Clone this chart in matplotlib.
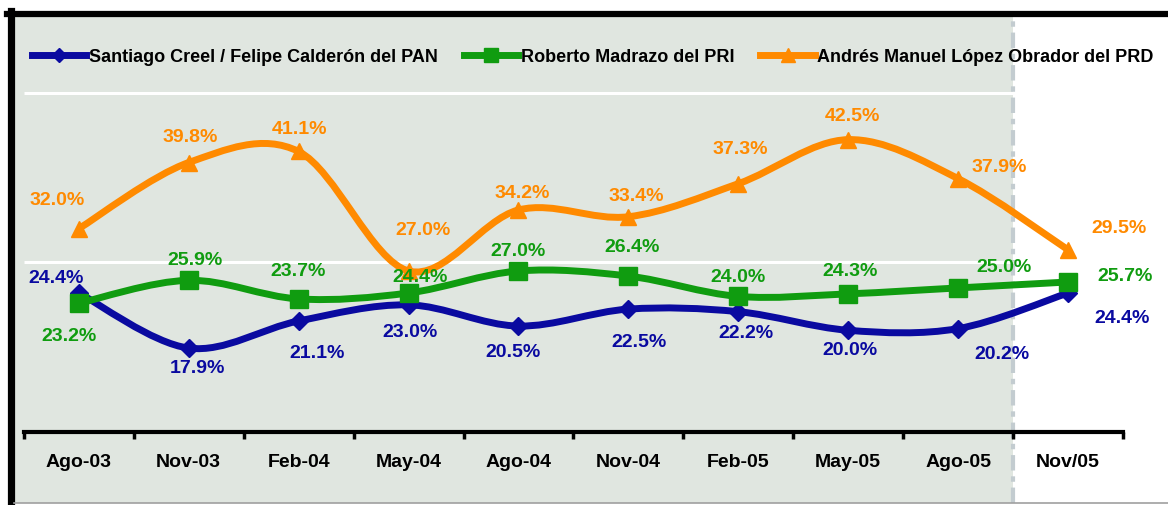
import numpy as np
import matplotlib
matplotlib.use("Agg")
import matplotlib.pyplot as plt
from matplotlib.path import Path
from matplotlib.patches import PathPatch
from matplotlib.lines import Line2D

# data
periods = ["Ago-03", "Nov-03", "Feb-04", "May-04", "Ago-04",
           "Nov-04", "Feb-05", "May-05", "Ago-05", "Nov/05"]
pan = [24.4, 17.9, 21.1, 23.0, 20.5, 22.5, 22.2, 20.0, 20.2, 24.4]
pri = [23.2, 25.9, 23.7, 24.4, 27.0, 26.4, 24.0, 24.3, 25.0, 25.7]
prd = [32.0, 39.8, 41.1, 27.0, 34.2, 33.4, 37.3, 42.5, 37.9, 29.5]
names = ["Santiago Creel / Felipe Calderón del PAN",
         "Roberto Madrazo del PRI",
         "Andrés Manuel López Obrador del PRD"]

# label offsets in pixels (dx, dy up)
pan_off = [(-23, 16), (9, -19), (18, -32), (1, -27), (-5, -25),
           (11, -32), (8, -21), (2, -19), (44, -25), (54, -24)]
pri_off = [(-10, -32), (6, 21), (-1, 28), (12, 17), (0, 20),
           (4, 30), (0, 20), (2, 23), (46, 21), (57, 6)]
prd_off = [(-22, 29), (1, 26), (1, 23), (14, 41), (4, 17),
           (8, 21), (2, 35), (4, 24), (41, 12), (51, 22)]

#visuals
BLUE = "#0a0aa0"
GREEN = "#109c10"
ORANGE = "#ff8a00"
PANEL = "#e0e6e0"
FONT = ["Liberation Sans", "DejaVu Sans"]
plt.rcParams["font.family"] = FONT
plt.rcParams["font.weight"] = "bold"

W, H = 1168, 506
fig = plt.figure(figsize=(W / 100, H / 100), dpi=100)
fig.patch.set_facecolor("white")

ax = fig.add_axes([14 / W, 2 / H, (W - 14) / W, (504 - 18) / H])
ax.set_facecolor("white")
ax.set_xlim(-0.59, 9.91)
ax.set_ylim(-0.38, 56.97)

n = len(periods)
x = np.arange(n)

# shaded history area + divider
ax.axvspan(-0.59, 8.5, color=PANEL, lw=0, zorder=0)
ax.axvline(8.5, color="#c3ccd0", lw=3, ls=(0, (3.7, 1.4, 1.3, 1.4)), zorder=1)
ax.hlines([28, 48], -0.5, 8.5, colors="white", lw=2.2, zorder=1)


def smooth_path(xs, ys):
    # excel-like smoothed line (catmull-rom as cubic beziers)
    pts = np.column_stack([xs, ys]).astype(float)
    verts = [pts[0]]
    codes = [Path.MOVETO]
    for i in range(len(pts) - 1):
        p0 = pts[i - 1] if i > 0 else pts[i]
        p1 = pts[i]
        p2 = pts[i + 1]
        p3 = pts[i + 2] if i + 2 < len(pts) else pts[i + 1]
        c1 = p1 + (p2 - p0) / 6.0
        c2 = p2 - (p3 - p1) / 6.0
        verts += [c1, c2, p2]
        codes += [Path.CURVE4] * 3
    return Path(verts, codes)


series = [
    (pan, BLUE, "D", 9, pan_off),
    (pri, GREEN, "s", 13, pri_off),
    (prd, ORANGE, "^", 12, prd_off),
]

handles = []
for vals, col, mk, ms, offs in series:
    patch = PathPatch(smooth_path(x, vals), facecolor="none", edgecolor=col,
                      lw=5, capstyle="butt", joinstyle="round", zorder=3)
    ax.add_patch(patch)
    ax.plot(x, vals, ls="none", marker=mk, ms=ms, color=col, zorder=4)
    for xi, v, (dx, dy) in zip(x, vals, offs):
        ax.annotate(f"{v:.1f}%", (xi, v), xytext=(dx, dy),
                    textcoords="offset pixels", ha="center", va="center",
                    color=col, fontsize=14, fontweight="bold", zorder=5)
    handles.append(Line2D([], [], color=col, lw=5, marker=mk, ms=ms * 0.8))

# x axis
for s in ["left", "right", "top"]:
    ax.spines[s].set_visible(False)
ax.spines["bottom"].set_position(("data", 8))
ax.spines["bottom"].set_bounds(-0.5, 9.5)
ax.spines["bottom"].set_linewidth(3)
ax.spines["bottom"].set_zorder(2)
ax.set_xticks(x)
ax.set_xticklabels(periods, fontsize=14, fontweight="bold")
ax.set_xticks(np.arange(-0.5, n, 1), minor=True)
ax.tick_params(axis="x", which="major", length=0, pad=15)
ax.tick_params(axis="x", which="minor", length=5, width=2.5, direction="out")
ax.set_yticks([])

fig.legend(handles, names, ncol=3, loc="center left",
           bbox_to_anchor=(32 / W, 1 - 58 / H), frameon=False,
           handlelength=3.0, handletextpad=0.15,
           columnspacing=1.45, borderpad=0, borderaxespad=0,
           prop={"weight": "bold", "size": 13})

# outer frame
fig.add_artist(Line2D([10.5 / W, 10.5 / W], [0, 1 - 12 / H],
                      transform=fig.transFigure, color="black", lw=5.2,
                      solid_capstyle="projecting"))
fig.add_artist(Line2D([7 / W, 1], [1 - 15 / H, 1 - 15 / H],
                      transform=fig.transFigure, color="black", lw=4.5))
fig.add_artist(Line2D([14 / W, 1], [1 - 504 / H, 1 - 504 / H],
                      transform=fig.transFigure, color="#a0a0a0", lw=1.2))

fig.savefig("out.png", dpi=100)
